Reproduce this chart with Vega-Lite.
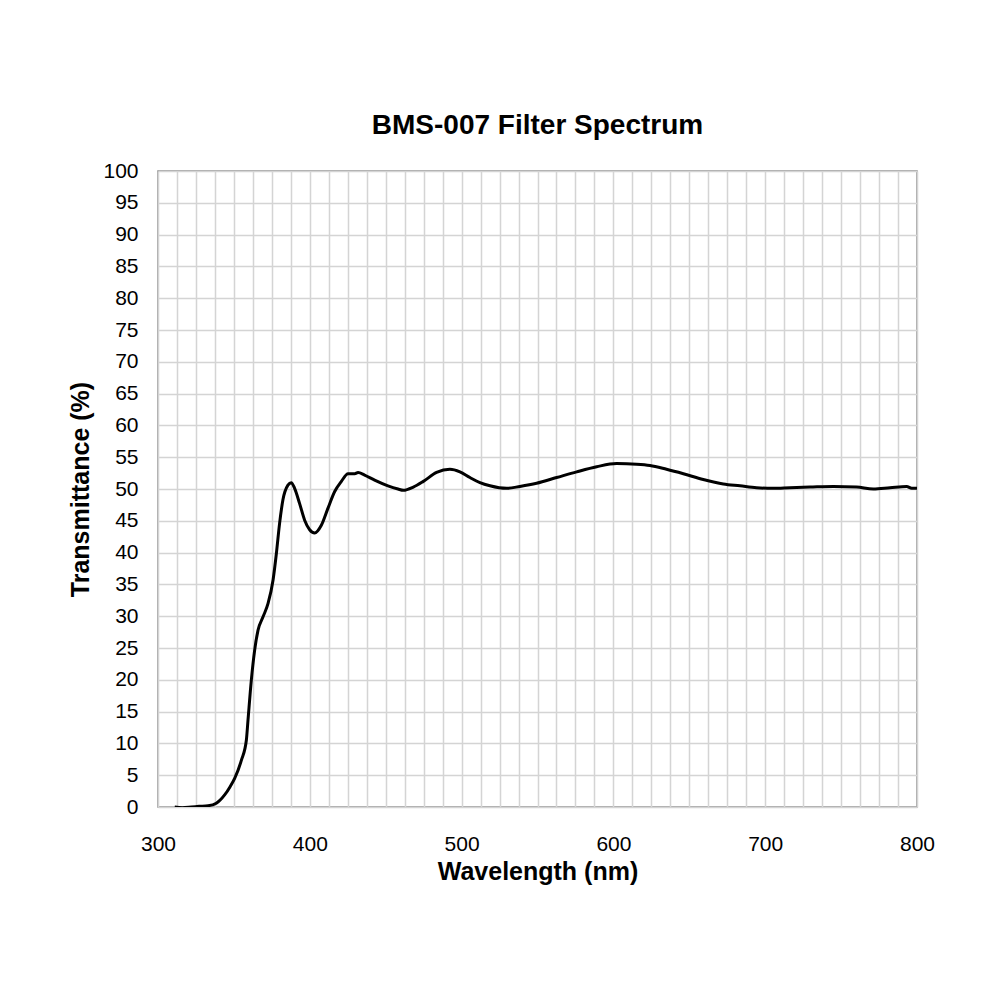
{
  "$schema": "https://vega.github.io/schema/vega-lite/v6.json",
  "autosize": "none",
  "width": 759,
  "height": 636,
  "padding": {"left": 158, "top": 171, "right": 83, "bottom": 193},
  "background": "white",
  "title": {
    "text": "BMS-007 Filter Spectrum",
    "fontSize": 28,
    "font": "Liberation Sans",
    "fontWeight": "bold",
    "color": "black",
    "anchor": "middle",
    "offset": 20
  },
  "data": {
    "values": [
      {"nm": 311, "t": 0.0},
      {"nm": 316, "t": -0.1},
      {"nm": 322, "t": 0.0},
      {"nm": 327, "t": 0.1},
      {"nm": 333, "t": 0.2},
      {"nm": 338.4, "t": 0.6},
      {"nm": 343.9, "t": 1.9},
      {"nm": 347.5, "t": 3.2},
      {"nm": 350.5, "t": 4.5},
      {"nm": 355, "t": 7.4},
      {"nm": 358.2, "t": 10.5},
      {"nm": 359.3, "t": 13.7},
      {"nm": 361.5, "t": 20},
      {"nm": 363.7, "t": 24.7},
      {"nm": 365.9, "t": 27.8},
      {"nm": 369.2, "t": 29.9},
      {"nm": 372.5, "t": 32},
      {"nm": 375.8, "t": 35.7},
      {"nm": 378, "t": 39.9},
      {"nm": 380.1, "t": 44.6},
      {"nm": 382.3, "t": 48.3},
      {"nm": 385.6, "t": 50.6},
      {"nm": 387.8, "t": 51},
      {"nm": 390, "t": 50.1},
      {"nm": 393.3, "t": 47.7},
      {"nm": 396.6, "t": 45.1},
      {"nm": 399.9, "t": 43.6},
      {"nm": 403.2, "t": 43.1},
      {"nm": 407.6, "t": 44.3},
      {"nm": 412, "t": 47},
      {"nm": 416.4, "t": 49.6},
      {"nm": 420.8, "t": 51.2},
      {"nm": 425.2, "t": 52.4},
      {"nm": 429.6, "t": 52.4},
      {"nm": 431.8, "t": 52.6},
      {"nm": 436.1, "t": 52.2},
      {"nm": 442.7, "t": 51.4},
      {"nm": 451.5, "t": 50.5},
      {"nm": 458.1, "t": 50.0},
      {"nm": 461.6, "t": 49.8},
      {"nm": 468.2, "t": 50.3},
      {"nm": 474.8, "t": 51.2},
      {"nm": 483.5, "t": 52.6},
      {"nm": 492.3, "t": 53.1},
      {"nm": 498.9, "t": 52.7},
      {"nm": 505.5, "t": 51.8},
      {"nm": 512.1, "t": 51.0},
      {"nm": 518.7, "t": 50.5},
      {"nm": 529.7, "t": 50.1},
      {"nm": 538.4, "t": 50.4},
      {"nm": 549.4, "t": 50.9},
      {"nm": 562.6, "t": 51.8},
      {"nm": 575.8, "t": 52.7},
      {"nm": 589, "t": 53.5},
      {"nm": 602.1, "t": 54.0},
      {"nm": 615.3, "t": 53.9},
      {"nm": 624.1, "t": 53.7},
      {"nm": 635, "t": 53.1},
      {"nm": 646.1, "t": 52.4},
      {"nm": 659.2, "t": 51.5},
      {"nm": 672.4, "t": 50.8},
      {"nm": 683.4, "t": 50.5},
      {"nm": 694.3, "t": 50.2},
      {"nm": 705.3, "t": 50.1},
      {"nm": 716.3, "t": 50.2},
      {"nm": 729.5, "t": 50.3},
      {"nm": 744.9, "t": 50.4},
      {"nm": 760.2, "t": 50.3},
      {"nm": 771.2, "t": 50.0},
      {"nm": 782.2, "t": 50.2},
      {"nm": 793.2, "t": 50.4},
      {"nm": 796.5, "t": 50.1},
      {"nm": 800, "t": 50.1}
    ]
  },
  "mark": {"type": "line", "color": "black", "strokeWidth": 3, "interpolate": "monotone", "clip": true},
  "encoding": {
    "x": {
      "field": "nm",
      "type": "quantitative",
      "title": "Wavelength (nm)",
      "scale": {"domain": [300, 800], "nice": false, "zero": false},
      "axis": {
        "values": [300, 312.5, 325, 337.5, 350, 362.5, 375, 387.5, 400, 412.5, 425, 437.5, 450, 462.5, 475, 487.5, 500, 512.5, 525, 537.5, 550, 562.5, 575, 587.5, 600, 612.5, 625, 637.5, 650, 662.5, 675, 687.5, 700, 712.5, 725, 737.5, 750, 762.5, 775, 787.5, 800],
        "labelExpr": "datum.value % 100 === 0 ? format(datum.value, 'd') : ''",
        "labelPadding": 26,
        "titlePadding": 5
      }
    },
    "y": {
      "field": "t",
      "type": "quantitative",
      "title": "Transmittance (%)",
      "scale": {"domain": [0, 100], "nice": false},
      "axis": {
        "values": [0, 5, 10, 15, 20, 25, 30, 35, 40, 45, 50, 55, 60, 65, 70, 75, 80, 85, 90, 95, 100],
        "labelPadding": 20,
        "titlePadding": 9
      }
    }
  },
  "config": {
    "view": {"stroke": "#8c8c8c", "strokeWidth": 1.5},
    "axis": {
      "ticks": false,
      "domain": false,
      "grid": true,
      "gridColor": "#d4d4d4",
      "gridWidth": 1.5,
      "labelFont": "Liberation Sans",
      "labelFontSize": 21,
      "labelColor": "black",
      "labelFlush": false,
      "labelOverlap": false,
      "titleFont": "Liberation Sans",
      "titleFontSize": 25,
      "titleFontWeight": "bold",
      "titleColor": "black"
    }
  }
}
